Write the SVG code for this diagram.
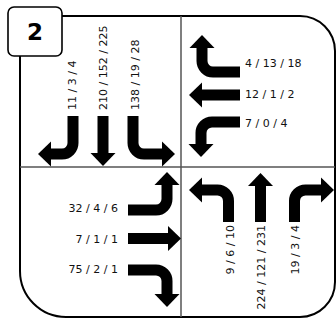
<svg xmlns="http://www.w3.org/2000/svg" width="336" height="320" viewBox="0 0 336 320">
<defs>
<style>
.frame{fill:none;stroke:#000;stroke-width:2}
.grid{fill:none;stroke:#555;stroke-width:1.5}
.arr{fill:none;stroke:#000;stroke-width:11;stroke-linecap:butt;marker-end:url(#head)}
.lbl{font-family:"DejaVu Sans",sans-serif;font-size:11px;fill:#111}
.num{font-family:"DejaVu Sans",sans-serif;font-size:23px;font-weight:bold;fill:#000}
</style>
<marker id="head" markerUnits="userSpaceOnUse" markerWidth="16" markerHeight="28" viewBox="-2 -14 16 28" refX="1" refY="0" orient="auto">
<polygon points="0,-12.5 13,0 0,12.5" fill="#000"/>
</marker>
</defs>
<rect width="336" height="320" fill="#fff"/>
<g id="frame">
<path class="frame" d="M62,16 H300 A35,35 0 0 1 335,51 V282 A35,35 0 0 1 300,317 H66 A46,46 0 0 1 20,271 V56"/>
<line class="grid" x1="181" y1="16" x2="181" y2="317"/>
<line class="grid" x1="20" y1="167" x2="335" y2="167"/>
</g>
<g id="badge">
<rect x="8" y="7" width="54" height="49" rx="6" fill="#fff" stroke="#000" stroke-width="1.6"/>
<text class="num" x="35" y="40" text-anchor="middle">2</text>
</g>
<g id="connectors">
<g id="south-bound">
<path class="arr" d="M73,116 V143 A11,11 0 0 1 62,154 H50"/>
<path class="arr" d="M103,116 V154"/>
<path class="arr" d="M133,116 V143 A11,11 0 0 0 144,154 H163"/>
</g>
<g id="west-bound">
<path class="arr" d="M240,72 H213 A11,11 0 0 1 202,61 V47"/>
<path class="arr" d="M240,95 H201"/>
<path class="arr" d="M240,122 H212 A11,11 0 0 0 201,133 V145"/>
</g>
<g id="east-bound">
<path class="arr" d="M128,210 H156 A11,11 0 0 0 167,199 V184"/>
<path class="arr" d="M128,238.5 H169"/>
<path class="arr" d="M128,270 H156 A11,11 0 0 1 167,281 V295"/>
</g>
<g id="north-bound">
<path class="arr" d="M228.5,222 V201 A11,11 0 0 0 217.5,190 H201"/>
<path class="arr" d="M260.5,222 V185"/>
<path class="arr" d="M294.5,222 V201 A11,11 0 0 1 305.5,190 H322"/>
</g>
</g>
<g id="labels-south">
<text class="lbl" transform="translate(76,110) rotate(-90)">11 / 3 / 4</text>
<text class="lbl" transform="translate(107,110) rotate(-90)">210 / 152 / 225</text>
<text class="lbl" transform="translate(139,110) rotate(-90)">138 / 19 / 28</text>
</g>
<g id="labels-west">
<text class="lbl" x="245" y="67">4 / 13 / 18</text>
<text class="lbl" x="245" y="98">12 / 1 / 2</text>
<text class="lbl" x="245" y="127">7 / 0 / 4</text>
</g>
<g id="labels-east">
<text class="lbl" x="118" y="212" text-anchor="end">32 / 4 / 6</text>
<text class="lbl" x="118" y="243" text-anchor="end">7 / 1 / 1</text>
<text class="lbl" x="118" y="273" text-anchor="end">75 / 2 / 1</text>
</g>
<g id="labels-north">
<text class="lbl" transform="translate(234,225) rotate(-90)" text-anchor="end">9 / 6 / 10</text>
<text class="lbl" transform="translate(265,225) rotate(-90)" text-anchor="end">224 / 121 / 231</text>
<text class="lbl" transform="translate(299,225) rotate(-90)" text-anchor="end">19 / 3 / 4</text>
</g>
</svg>
